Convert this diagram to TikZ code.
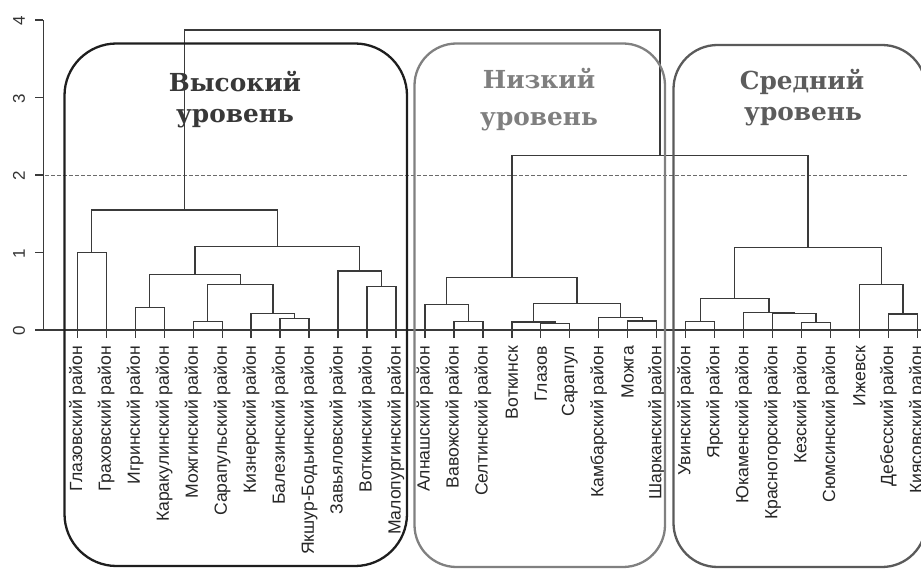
\documentclass[tikz,border=0pt]{standalone}
\usepackage{fontspec}
\setmainfont{Liberation Sans}
\newfontfamily\titlefont{DejaVu Serif}
\definecolor{dendc}{HTML}{3A3A3A}
\definecolor{boxA}{HTML}{1E1E1E}
\definecolor{boxB}{HTML}{808080}
\definecolor{boxC}{HTML}{5A5A5A}
\definecolor{titA}{HTML}{383838}
\definecolor{titB}{HTML}{7F7F7F}
\definecolor{titC}{HTML}{5C5C5C}
\newcommand\joinpair[3]{\draw[dend] (#1) |- (#2) -| (#3);}
\begin{document}
\begin{tikzpicture}[x=1pt,y=-1pt,
  dend/.style={draw=dendc, line width=1.3pt},
  axisline/.style={draw=dendc, line width=1.2pt},
  cutline/.style={draw=dendc!75, line width=0.9pt, dash pattern=on 3.5pt off 2.5pt},
  leaflbl/.style={rotate=90, anchor=east, inner sep=0pt, font=\fontsize{17.6}{17.6}\selectfont, text=black!85},
  ticklbl/.style={rotate=90, anchor=center, inner sep=0pt, font=\fontsize{17}{17}\selectfont, text=black!80},
  grpbox/.style={line width=2.3pt},
  ttl/.style={anchor=base, inner sep=0pt, font=\titlefont\bfseries\fontsize{24.8}{24.8}\selectfont}
]
\useasboundingbox (0,0) rectangle (921,569);

% axis
\coordinate (ax0) at (43.3,330);
\coordinate (ax4) at (43.3,20);
\coordinate (axr) at (921,330);
\draw[axisline] (ax0) -- (ax4);
\draw[axisline] (ax0) -- (axr);
\foreach \k in {0,...,4}{
  \coordinate (tk\k) at (43.3,{330-77.5*\k});
  \draw[axisline] (tk\k) -- ++(-8,0);
  \node[ticklbl] (tl\k) at (19,{331-77.5*\k}) {\k};
}

% cut line
\coordinate (cutL) at (45,175.7);
\coordinate (cutR) at (907,175.7);
\draw[cutline] (cutL) -- (cutR);

% leaves
\foreach \i in {0,...,29}{
  \coordinate (l\i) at ({77.3+28.97*\i},338);
}

% merge points
\coordinate (m01) at (91.8,252.7);
\coordinate (m23) at (149.7,307.3);
\coordinate (m45) at (207.7,321.7);
\coordinate (m78) at (294.6,318.3);
\coordinate (m678) at (272.85,313.3);
\coordinate (m48) at (240.3,284.3);
\coordinate (m28) at (195.0,274.3);
\coordinate (m1011) at (381.5,286.7);
\coordinate (m911) at (359.75,271);
\coordinate (m211) at (277.4,246.7);
\coordinate (g1) at (184.6,210);

\coordinate (n1314) at (468.4,321.7);
\coordinate (n1214) at (446.65,304.3);
\coordinate (n1617) at (555.3,323.5);
\coordinate (n1517) at (533.6,322);
\coordinate (n1920) at (642.2,321);
\coordinate (n1820) at (620.5,317.7);
\coordinate (n1520) at (577.05,303.3);
\coordinate (g2) at (511.85,277.3);

\coordinate (p2122) at (700.15,321.7);
\coordinate (p2526) at (816.05,322.7);
\coordinate (p2426) at (794.3,313.5);
\coordinate (p2326) at (768.95,312.5);
\coordinate (p2126) at (734.55,298.3);
\coordinate (p2829) at (902.95,314);
\coordinate (p2729) at (881.2,284.3);
\coordinate (g3) at (807.9,247.3);
\coordinate (g23) at (659.9,155.7);
\coordinate (root) at (422.25,30);

% group 1
\joinpair{l0}{m01}{l1}
\joinpair{l2}{m23}{l3}
\joinpair{l4}{m45}{l5}
\joinpair{l7}{m78}{l8}
\joinpair{l6}{m678}{m78}
\joinpair{m45}{m48}{m678}
\joinpair{m23}{m28}{m48}
\joinpair{l10}{m1011}{l11}
\joinpair{l9}{m911}{m1011}
\joinpair{m28}{m211}{m911}
\joinpair{m01}{g1}{m211}
% group 2
\joinpair{l13}{n1314}{l14}
\joinpair{l12}{n1214}{n1314}
\joinpair{l16}{n1617}{l17}
\joinpair{l15}{n1517}{n1617}
\joinpair{l19}{n1920}{l20}
\joinpair{l18}{n1820}{n1920}
\joinpair{n1517}{n1520}{n1820}
\joinpair{n1214}{g2}{n1520}
% group 3
\joinpair{l21}{p2122}{l22}
\joinpair{l25}{p2526}{l26}
\joinpair{l24}{p2426}{p2526}
\joinpair{l23}{p2326}{p2426}
\joinpair{p2122}{p2126}{p2326}
\joinpair{l28}{p2829}{l29}
\joinpair{l27}{p2729}{p2829}
\joinpair{p2126}{g3}{p2729}
\joinpair{g2}{g23}{g3}
\joinpair{g1}{root}{g23}

% leaf labels
\foreach \i/\t in {0/Глазовский район,1/Граховский район,2/Игринский район,3/Каракулинский район,
  4/Можгинский район,5/Сарапульский район,6/Кизнерский район,7/Балезинский район,
  8/Якшур-Бодьинский район,9/Завьяловский район,10/Воткинский район,11/Малопургинский район,
  12/Алнашский район,13/Вавожский район,14/Селтинский район,15/Воткинск,16/Глазов,17/Сарапул,
  18/Камбарский район,19/Можга,20/Шарканский район,21/Увинский район,22/Ярский район,
  23/Юкаменский район,24/Красногорский район,25/Кезский район,26/Сюмсинский район,
  27/Ижевск,28/Дебесский район,29/Киясовский район}{
  \node[leaflbl] (lab\i) at ({77.3+28.97*\i},346) {\t};
}

% group boxes
\draw[grpbox, draw=boxA, rounded corners=52pt] (64.5,43.5) rectangle (407,566);
\draw[grpbox, draw=boxB, rounded corners=42pt] (414.5,43.5) rectangle (665,567);
\draw[grpbox, draw=boxC, rounded corners=44pt] (673.5,45) rectangle (926,567);

% titles
\node[ttl, text=titA] (tA1) at (235,92) {Высокий};
\node[ttl, text=titA] (tA2) at (235,122.5) {уровень};
\node[ttl, text=titB] (tB1) at (539,88.3) {Низкий};
\node[ttl, text=titB] (tB2) at (539,126) {уровень};
\node[ttl, text=titC] (tC1) at (802,89.5) {Средний};
\node[ttl, text=titC] (tC2) at (803,121) {уровень};
\end{tikzpicture}
\end{document}
